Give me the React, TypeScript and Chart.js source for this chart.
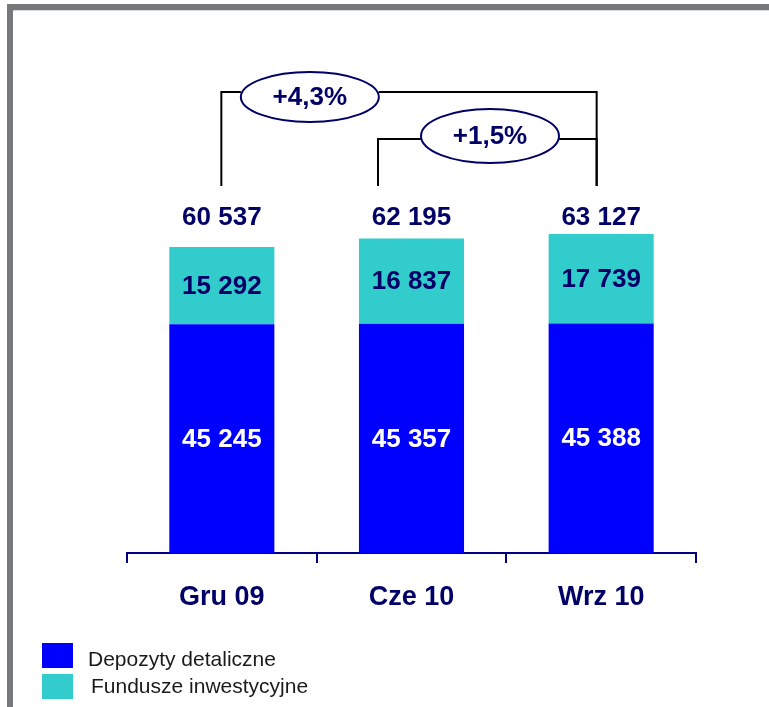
import React, { useEffect, useRef } from "react";
import { Chart, registerables } from "chart.js";

Chart.register(...registerables);

const categories = ["Gru 09", "Cze 10", "Wrz 10"];
const retailDeposits = [45245, 45357, 45388];
const investmentFunds = [15292, 16837, 17739];
const totals = [60537, 62195, 63127];
const seriesNames = ["Depozyty detaliczne", "Fundusze inwestycyjne"];
const growthLabels = ["+4,3%", "+1,5%"];
const growthFrom = [0, 1];
const growthTo = [2, 2];

const FONT = '"Liberation Sans", Arial, Helvetica, sans-serif';
const NAVY = "#000066";
const AXIS = "#000080";
const BLUE = "#0000FF";
const CYAN = "#33CCCC";

const fmt = (n: number) => String(n).replace(/\B(?=(\d{3})+(?!\d))/g, " ");

const framePlugin = {
  id: "frame",
  beforeDraw(chart: any) {
    const ctx = chart.ctx;
    ctx.save();
    ctx.fillStyle = "#ffffff";
    ctx.fillRect(0, 0, chart.width, chart.height);
    ctx.fillStyle = "#76797c";
    ctx.fillRect(7, 4, chart.width - 7, 6);
    ctx.fillRect(7, 4, 6, chart.height - 4);
    ctx.fillStyle = "#d4d6d8";
    ctx.fillRect(13, 10, chart.width - 13, 1);
    ctx.restore();
  },
};

const valueLabelsPlugin = {
  id: "valueLabels",
  afterDatasetsDraw(chart: any) {
    const ctx = chart.ctx;
    ctx.save();
    ctx.textAlign = "center";
    ctx.textBaseline = "middle";
    ctx.font = `bold 26px ${FONT}`;
    chart.data.datasets.forEach((ds: any, di: number) => {
      const meta = chart.getDatasetMeta(di);
      meta.data.forEach((bar: any, i: number) => {
        const { x, y, base } = bar.getProps(["x", "y", "base"], true);
        ctx.fillStyle = di === 0 ? "#ffffff" : NAVY;
        ctx.fillText(fmt(ds.data[i]), x, (y + base) / 2 + 1);
      });
    });
    const topMeta = chart.getDatasetMeta(chart.data.datasets.length - 1);
    const totalsY = chart.chartArea.top + 170.5;
    ctx.fillStyle = NAVY;
    topMeta.data.forEach((bar: any, i: number) => {
      const { x } = bar.getProps(["x"], true);
      ctx.fillText(fmt(totals[i]), x, totalsY);
    });
    ctx.restore();
  },
};

const bracketPlugin = {
  id: "brackets",
  afterDraw(chart: any) {
    const ctx = chart.ctx;
    const xs = chart.scales.x;
    const bottomY = 186;
    const specs = [
      { lineY: 92, leftOff: -0.5, rightOff: -4.5, ecxOff: 88, ecy: 97, rx: 69, ry: 25 },
      { lineY: 139, leftOff: -33.5, rightOff: -4.5, ecxOff: 78.5, ecy: 136, rx: 69, ry: 27 },
    ];
    ctx.save();
    growthLabels.forEach((label, k) => {
      const s = specs[k];
      const lx = xs.getPixelForValue(growthFrom[k]) + s.leftOff;
      const rx = xs.getPixelForValue(growthTo[k]) + s.rightOff;
      const ecx = xs.getPixelForValue(growthFrom[k]) + s.ecxOff;
      ctx.strokeStyle = "#000000";
      ctx.lineWidth = 2;
      ctx.beginPath();
      ctx.moveTo(lx, bottomY);
      ctx.lineTo(lx, s.lineY);
      ctx.lineTo(ecx - s.rx, s.lineY);
      ctx.moveTo(ecx + s.rx, s.lineY);
      ctx.lineTo(rx, s.lineY);
      ctx.lineTo(rx, bottomY);
      ctx.stroke();
      ctx.beginPath();
      ctx.ellipse(ecx, s.ecy, s.rx, s.ry, 0, 0, Math.PI * 2);
      ctx.fillStyle = "#ffffff";
      ctx.fill();
      ctx.strokeStyle = NAVY;
      ctx.lineWidth = 2;
      ctx.stroke();
      ctx.fillStyle = NAVY;
      ctx.font = `bold 26px ${FONT}`;
      ctx.textAlign = "center";
      ctx.textBaseline = "middle";
      ctx.fillText(label, ecx, s.ecy + 1);
    });
    ctx.restore();
  },
};

const legendPlugin = {
  id: "customLegend",
  afterDraw(chart: any) {
    const ctx = chart.ctx;
    ctx.save();
    const rows = [
      { box: [42, 643, 31, 25], tx: 88, ty: 660 },
      { box: [42, 674, 31, 25], tx: 91, ty: 687 },
    ];
    chart.data.datasets.forEach((ds: any, i: number) => {
      const r = rows[i];
      ctx.fillStyle = ds.backgroundColor;
      ctx.fillRect(r.box[0], r.box[1], r.box[2], r.box[3]);
      ctx.fillStyle = "#1a1a1a";
      ctx.font = `21px ${FONT}`;
      ctx.textAlign = "left";
      ctx.textBaseline = "middle";
      ctx.fillText(ds.label, r.tx, r.ty);
    });
    ctx.restore();
  },
};

export default function App() {
  const canvasRef = useRef<HTMLCanvasElement | null>(null);

  useEffect(() => {
    if (!canvasRef.current) return;
    const chart = new Chart(canvasRef.current, {
      type: "bar",
      data: {
        labels: categories,
        datasets: [
          {
            label: seriesNames[0],
            data: retailDeposits,
            backgroundColor: BLUE,
            borderWidth: 0,
            barPercentage: 0.554,
            categoryPercentage: 1,
          },
          {
            label: seriesNames[1],
            data: investmentFunds,
            backgroundColor: CYAN,
            borderWidth: 0,
            barPercentage: 0.554,
            categoryPercentage: 1,
          },
        ],
      },
      options: {
        animation: false,
        responsive: false,
        maintainAspectRatio: false,
        devicePixelRatio: 1,
        layout: { padding: { left: 127, right: 73, top: 47.5, bottom: 0 } },
        plugins: {
          legend: { display: false },
          tooltip: { enabled: false },
          title: { display: false },
        },
        scales: {
          x: {
            stacked: true,
            offset: true,
            grid: {
              display: true,
              offset: true,
              drawOnChartArea: false,
              drawTicks: true,
              tickLength: 10,
              color: AXIS,
              lineWidth: 2,
            },
            border: { display: true, color: AXIS, width: 2 },
            ticks: {
              color: NAVY,
              font: { family: FONT, size: 27, weight: "bold" },
              padding: 18,
              maxRotation: 0,
            },
            afterFit: (s: any) => {
              s.height = 154;
            },
          },
          y: {
            stacked: true,
            display: false,
            min: 0,
            max: 100000,
          },
        },
      },
      plugins: [framePlugin, valueLabelsPlugin, bracketPlugin, legendPlugin],
    });
    return () => chart.destroy();
  }, []);

  return (
    <div style={{ position: "absolute", left: 0, top: 0, width: 769, height: 707 }}>
      <canvas ref={canvasRef} width={769} height={707} style={{ display: "block" }} />
    </div>
  );
}
